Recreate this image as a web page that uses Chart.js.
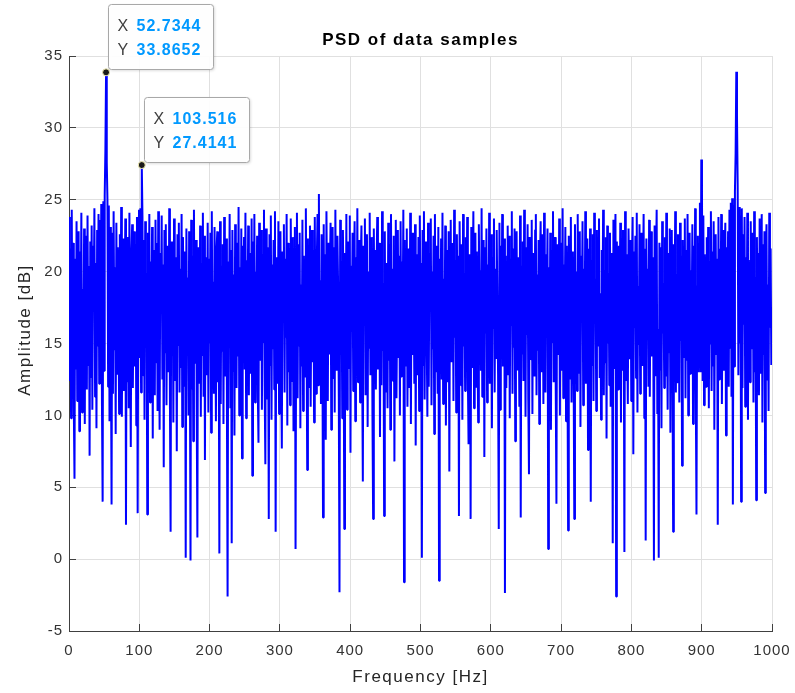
<!DOCTYPE html>
<html>
<head>
<meta charset="utf-8">
<title>PSD of data samples</title>
<script src="https://cdn.jsdelivr.net/npm/chart.js@4.4.1/dist/chart.umd.min.js"></script>
<style>
html, body { margin: 0; padding: 0; background: #fff; }
canvas { display: block; }
</style>
</head>
<body>
<canvas id="psd" width="795" height="693"></canvas>
<script>
// spectrum settings
const sampleRate = 1000;
const nfft = 1024;

// axis ticks
const xTicks = [0, 100, 200, 300, 400, 500, 600, 700, 800, 900, 1000];
const yTicks = [-5, 0, 5, 10, 15, 20, 25, 30, 35];

// bins that get a data tip
const tipBins = [54, 106];

// PSD amplitude per bin, dB (one row = 32 bins)
const amplitudeDb = [
  23.8, 12.4, 21.6, 9.8, 24.3, 14.1, 22.0, 10.6, 5.6, 20.9, 13.2, 23.5, 11.0, 19.7, 22.8, 8.9, 21.4, 15.6, 24.1, 10.2, 18.8, 12.7, 23.0, 9.4, 22.5, 16.3, 11.8, 23.9, 13.5, 20.4, 7.2, 22.1,
  12.6, 23.2, 10.4, 21.8, 17.5, 24.4, 11.3, 20.6, 9.1, 22.9, 14.8, 24.0, 12.2, 23.6, 16.0, 24.7, 10.8, 4.0, 24.9, 13.1, 25.3, 28.4, 33.8652, 27.6, 25.0, 12.0, 24.6, 9.6, 23.1, 15.4, 3.8, 22.7,
  11.5, 24.2, 14.6, 20.3, 8.7, 23.4, 12.9, 21.7, 18.2, 10.1, 22.6, 13.8, 24.5, 9.9, 19.4, 22.3, 11.7, 16.8, 23.7, 2.4, 20.8, 12.3, 22.4, 10.5, 24.1, 15.2, 7.8, 21.2, 23.3, 11.9, 18.6, 22.8,
  13.4, 21.9, 9.3, 23.8, 3.2, 20.1, 24.3, 14.0, 24.4, 11.6, 27.4141, 23.8, 12.8, 22.2, 9.7, 23.5, 16.4, 19.9, 3.1, 22.7, 12.1, 24.0, 10.9, 20.7, 14.3, 23.1, 8.4, 21.5, 18.0, 11.4, 23.6, 13.7,
  22.0, 10.3, 24.2, 15.8, 9.0, 21.3, 17.1, 23.9, 12.5, 20.5, 6.4, 22.9, 14.4, 23.3, 10.7, 19.2, 21.8, 13.0, 24.4, 11.1, 1.9, 22.1, 16.7, 20.0, 9.5, 23.7, 12.4, 21.0, 18.4, 7.5, 22.6, 14.9,
  23.4, 11.6, 20.2, 13.3, 24.0, 9.2, 22.4, 16.1, 12.0, 21.4, 0.1, 23.0, 14.7, 19.6, 10.0, 22.8, 15.5, -0.1, 23.6, 11.8, 21.1, 8.2, 24.3, 13.6, 19.0, 22.2, 10.6, 1.5, 21.7, 17.4, 12.2, 23.2,
  9.9, 20.6, 14.2, 24.1, 11.3, 22.5, 6.9, 21.0, 18.7, 12.8, 23.4, 10.2, 20.9, 15.0, 22.7, 8.8, 24.2, 13.9, 19.3, 11.5, 23.1, 16.6, 9.6, 21.6, 22.8, 12.3, 17.7, 0.4, 23.5, 10.8, 20.4, 14.5,
  21.9, 9.4, 23.8, 12.7, 18.9, 22.3, 11.0, -2.6, 20.7, 15.3, 24.0, 10.5, 21.5, 1.1, 22.9, 13.1, 19.8, 8.6, 23.3, 16.2, 11.9, 22.0, 14.1, 24.5, 10.0, 20.3, 12.6, 23.0, 7.0, 21.8, 17.9, 22.4,
  13.2, 24.1, 9.8, 20.8, 15.7, 23.2, 11.4, 21.3, 18.3, 12.9, 23.7, 5.8, 22.1, 14.0, 24.0, 10.9, 20.0, 16.5, 22.5, 11.7, 8.1, 23.4, 13.8, 19.5, 22.9, 10.4, 21.2, 15.1, 24.3, 12.0, 6.6, 23.0,
  11.1, 21.7, 17.0, 2.8, 22.6, 13.5, 23.9, 9.7, 20.5, 14.6, 22.2, 11.8, 24.2, 1.9, 21.0, 16.3, 12.2, 23.5, 10.1, 19.7, 22.8, 13.9, 7.7, 21.4, 18.1, 23.3, 11.6, 20.9, 15.4, 24.0, 9.3, 22.0,
  13.0, 21.6, 10.7, 23.7, 16.9, 12.4, 22.4, 8.9, 20.2, 23.1, 0.7, 18.5, 24.1, 11.2, 21.9, 14.8, 22.7, 9.1, 19.1, 13.4, 23.6, 10.3, 21.1, 17.6, 12.7, 24.4, 15.9, 6.2, 22.3, 11.9, 20.6, 23.2,
  10.6, 18.2, 22.9, 13.7, 21.5, 9.5, 23.8, 15.2, 11.5, 20.9, 24.0, 12.1, 25.4, 14.4, 19.4, 10.8, 22.6, 16.0, 2.9, 23.3, 12.9, 21.2, 8.3, 24.2, 17.2, 11.0, 22.0, 14.3, 20.1, 23.4, 9.0, 18.8,
  23.1, 12.6, 21.7, 10.2, 24.3, 15.6, 13.1, 22.5, 19.0, 11.3, -2.3, 23.6, 14.9, 20.7, 9.8, 22.9, 16.6, 2.1, 21.3, 12.4, 24.0, 10.4, 18.0, 22.1, 13.3, 23.9, 7.4, 20.4, 15.8, 22.7, 11.7, 19.6,
  23.5, 9.6, 21.0, 14.1, 24.4, 12.3, 17.3, 22.2, 10.9, 20.8, 23.2, 13.6, 5.4, 21.8, 16.4, 23.7, 11.4, 19.8, 22.6, 9.2, 20.0, 14.7, 24.1, 12.8, 18.6, 22.4, 10.1, 2.8, 23.0, 15.5, 21.5, 11.8,
  20.3, 23.8, 13.2, 16.8, 22.0, 8.5, 21.4, 12.1, 24.2, 14.5, 19.2, 3.0, 22.8, 11.6, 20.6, 17.8, 10.5, 23.4, 13.8, 21.9, 9.0, 24.0, 15.3, 20.2, 12.4, 22.5, 6.8, 19.9, 23.6, 11.2, 17.4, 22.9,
  14.0, 21.1, 10.0, 23.5, 12.7, 20.7, 16.2, 24.3, -1.6, 22.2, 13.4, 18.7, 23.0, 10.6, 21.6, 15.0, 11.9, 24.1, 9.4, 20.4, 22.7, 14.2, 19.3, 12.2, 23.3, 7.9, 21.2, 17.0, 12.8, 22.4, 10.3, 23.9,
  16.5, 20.6, 0.1, 22.9, 13.5, 24.2, 11.1, 19.7, 22.1, 15.9, 9.9, 23.4, 12.0, 21.3, 18.1, 23.7, 10.7, 20.0, 14.6, 22.5, 8.7, 24.0, 13.0, 21.8, 17.6, 11.5, 23.1, -1.5, 20.9, 15.1, 22.3, 12.5,
  24.1, 10.8, 19.5, 14.4, 23.2, 9.3, 21.5, 16.7, 12.3, 22.8, 6.1, 20.3, 23.6, 13.7, 18.3, 22.0, 11.0, 24.3, 15.4, 20.8, 10.2, 22.6, 13.9, 21.1, 3.0, 23.5, 17.1, 12.1, 21.9, 9.7, 24.0, 14.8,
  19.9, 11.7, 22.4, 16.0, 23.8, 12.6, 8.0, 21.2, 20.6, 2.8, 23.1, 13.3, 19.0, 24.2, 10.5, 17.9, 22.7, 12.0, 21.4, 14.9, 9.5, 23.3, 16.6, 20.1, 13.1, 24.4, 11.3, 18.6, 22.2, 7.1, 21.7, 15.7,
  23.0, 10.9, 20.5, 13.6, 24.1, 12.2, 19.4, 22.6, 9.1, 21.0, 16.1, 23.7, 11.6, 20.2, 14.0, 22.9, 17.5, 12.9, 2.1, 23.4, 10.4, 21.8, 15.2, 24.0, 13.4, 20.7, 22.3, -2.35, 21.1, 11.9, 18.2, 23.2,
  12.8, 22.5, 9.8, 20.9, 16.3, 24.2, 11.5, 21.6, 14.7, 23.0, 8.2, 19.6, 22.8, 13.2, 21.0, 17.3, 10.6, 23.9, 2.9, 20.4, 14.3, 22.1, 12.4, 24.3, 18.9, 9.9, 21.7, 15.6, 23.3, 11.1, 5.9, 22.4,
  20.0, 13.9, 23.6, 10.1, 21.3, 16.8, 12.7, 22.9, 24.0, 11.4, 19.8, 14.5, 22.2, 9.4, 20.7, 23.5, 13.0, 18.4, 22.6, 10.8, 24.1, 15.8, 11.6, 21.2, 17.7, 23.0, 0.7, 20.3, 13.6, 22.7, 9.0, 21.5,
  15.1, 24.2, 12.3, 19.3, 22.4, 11.8, 3.85, 21.9, 20.8, 14.2, 23.7, 10.0, 18.0, 22.0, 13.1, 24.4, 11.2, 20.5, 16.4, 23.1, 9.6, 21.8, 14.6, 2.0, 22.5, 12.5, 19.7, 23.8, 10.9, 17.2, 21.4, 13.8,
  2.8, 23.3, 15.5, 20.0, 11.7, 24.0, 12.9, 18.7, 22.8, 9.2, 21.1, 16.9, 23.5, 10.7, 20.2, 14.1, 24.2, 12.2, 19.1, 22.3, 7.6, 21.6, 15.9, 23.0, 4.0, 20.8, 13.5, 22.6, 11.0, 24.1, 17.0, 19.5,
  10.3, 22.9, 14.8, 21.0, 23.7, 12.6, 18.5, 9.7, 21.5, 16.2, 24.3, 11.4, 20.1, 13.7, 22.4, 8.4, 23.2, 15.0, 19.9, 12.1, 22.7, 10.6, 21.3, 17.4, 1.1, 23.6, 13.3, 20.6, 24.0, -2.6, 22.1, 14.4,
  11.8, 21.8, 16.7, 23.4, 9.5, 20.4, 13.1, 22.9, 18.2, 0.5, 24.2, 12.4, 21.2, 15.3, 10.8, 23.0, 19.4, 13.9, 22.2, 11.0, 20.7, 23.8, 7.3, 21.4, 16.1, 22.5, 12.6, 24.1, 10.2, 19.0, 14.9, 23.3,
  11.5, 20.9, 22.7, 13.5, 18.8, 24.0, 9.8, 21.6, 1.3, 22.3, 15.4, 20.2, 12.0, 23.6, 11.3, 19.6, 22.8, 14.1, 21.0, 17.8, -0.1, 23.2, 12.8, 20.5, 24.3, 10.1, 16.0, 0.1, 22.0, 13.2, 21.7, 9.1,
  23.5, 15.7, 19.2, 11.9, 22.4, 12.7, 24.1, 17.1, 10.4, 21.3, 14.4, 23.0, 8.8, 20.6, 22.9, 13.6, 1.9, 21.9, 16.5, 24.2, 11.6, 19.8, 12.3, 22.6, 20.3, 10.9, 23.4, 15.2, 21.1, 6.5, 22.2, 14.0,
  19.5, 23.7, 11.2, 21.5, 13.8, 24.0, 10.0, 18.4, 22.7, 12.9, 20.1, 16.4, 23.3, 9.4, 21.8, 14.6, 24.4, 11.5, 3.1, 19.0, 22.5, 13.0, 21.6, 24.8, 13.0, 27.8, 25.6, 12.4, 23.9, 10.7, 21.2, 16.9,
  12.0, 22.4, 17.6, 23.1, 10.5, 20.7, 15.0, 24.2, 11.7, 21.4, 13.4, 23.5, 9.0, 19.3, 22.6, 14.2, 20.9, 2.4, 23.8, 12.5, 21.6, 16.2, 24.0, 10.8, 18.1, 22.9, 13.1, 20.4, 23.4, 8.6, 21.7, 15.6,
  22.8, 12.0, 24.3, 14.7, 24.8, 11.3, 25.1, 3.8, 24.6, 13.4, 25.6, 28.2, 33.9, 30.8, 26.0, 12.8, 24.5, 15.0, 23.9, 4.0, 24.4, 11.9, 22.6, 16.3, 23.8, 10.6, 21.0, 13.9, 24.1, 9.7, 20.8, 17.5,
  12.3, 23.5, 14.6, 20.3, 22.7, 10.9, 24.2, 13.0, 19.6, 4.1, 22.4, 15.8, 21.3, 11.4, 23.7, 12.9, 18.0, 24.0, 9.5, 21.9, 14.2, 22.8, 4.6, 20.5, 23.3, 12.5, 19.1, 10.3, 24.1, 16.1, 21.6, 13.5
];

const binHz = sampleRate / nfft;
const points = amplitudeDb.map((v, i) => ({ x: i * binHz, y: v }));

const FONT = "'Liberation Sans', Arial, Helvetica, sans-serif";
const AXIS_COLOR = '#404040';
const TICK_COLOR = '#333333';

// same rounding chart.js uses for 1px lines
function crisp(p) {
  return Math.round(p - 0.5) + 0.5;
}

function roundRect(ctx, x, y, w, h, r) {
  ctx.beginPath();
  ctx.moveTo(x + r, y);
  ctx.lineTo(x + w - r, y);
  ctx.arcTo(x + w, y, x + w, y + r, r);
  ctx.lineTo(x + w, y + h - r);
  ctx.arcTo(x + w, y + h, x + w - r, y + h, r);
  ctx.lineTo(x + r, y + h);
  ctx.arcTo(x, y + h, x, y + h - r, r);
  ctx.lineTo(x, y + r);
  ctx.arcTo(x, y, x + r, y, r);
  ctx.closePath();
}

const decor = {
  id: 'decor',
  beforeDraw(chart) {
    const ctx = chart.ctx;
    ctx.save();
    ctx.fillStyle = '#fff';
    ctx.fillRect(0, 0, chart.width, chart.height);
    ctx.restore();
    ctx.letterSpacing = '1px';
  },
  beforeDatasetsDraw(chart) {
    // inward tick marks on left and bottom axes
    const { ctx, chartArea: a, scales: { x, y } } = chart;
    ctx.save();
    ctx.strokeStyle = AXIS_COLOR;
    ctx.lineWidth = 1;
    ctx.beginPath();
    yTicks.forEach(v => {
      const py = crisp(y.getPixelForValue(v));
      ctx.moveTo(a.left, py);
      ctx.lineTo(a.left + 7, py);
    });
    xTicks.forEach(v => {
      const px = crisp(x.getPixelForValue(v));
      ctx.moveTo(px, a.bottom);
      ctx.lineTo(px, a.bottom - 7);
    });
    ctx.stroke();
    ctx.restore();
  },
  afterDraw(chart) {
    const { ctx, chartArea: a, scales: { x, y } } = chart;
    const cx = (a.left + a.right) / 2;

    ctx.save();
    ctx.textAlign = 'center';
    ctx.textBaseline = 'middle';

    // title
    ctx.letterSpacing = '1.5px';
    ctx.fillStyle = '#000';
    ctx.font = `bold 17px ${FONT}`;
    ctx.fillText('PSD of data samples', cx, 40);

    // axis labels
    ctx.fillStyle = '#262626';
    ctx.font = `17px ${FONT}`;
    ctx.fillText('Frequency [Hz]', cx, 677);
    ctx.save();
    ctx.translate(25, 330);
    ctx.rotate(-Math.PI / 2);
    ctx.fillText('Amplitude [dB]', 0, 0);
    ctx.restore();
    ctx.restore();

    // data tips
    tipBins.forEach(bin => {
      const fx = bin * binHz;
      const fy = amplitudeDb[bin];
      const px = x.getPixelForValue(fx);
      const py = y.getPixelForValue(fy);
      const w = 105, h = 65;
      const bx = Math.round(px) + 2.5;
      const by = Math.round(py) - 2.5 - h;

      ctx.save();
      ctx.shadowColor = 'rgba(0,0,0,0.18)';
      ctx.shadowBlur = 3;
      ctx.shadowOffsetX = 1;
      ctx.shadowOffsetY = 1;
      ctx.fillStyle = 'rgba(255,255,255,0.96)';
      roundRect(ctx, bx, by, w, h, 3);
      ctx.fill();
      ctx.restore();

      ctx.save();
      ctx.strokeStyle = '#a8a8a8';
      ctx.lineWidth = 1;
      roundRect(ctx, bx, by, w, h, 3);
      ctx.stroke();

      ctx.textAlign = 'left';
      ctx.textBaseline = 'middle';
      ctx.letterSpacing = '1px';
      ctx.font = `16px ${FONT}`;
      ctx.fillStyle = '#404040';
      ctx.fillText('X', bx + 9, by + 22);
      ctx.fillText('Y', bx + 9, by + 46);
      ctx.font = `bold 16px ${FONT}`;
      ctx.fillStyle = '#0099ff';
      ctx.fillText(fx.toPrecision(6), bx + 28, by + 22);
      ctx.fillText(fy.toPrecision(6), bx + 28, by + 46);

      // marker
      ctx.beginPath();
      ctx.arc(px, py, 3.5, 0, Math.PI * 2);
      ctx.fillStyle = '#1a1a1a';
      ctx.fill();
      ctx.strokeStyle = '#f2eeb4';
      ctx.lineWidth = 1;
      ctx.stroke();
      ctx.restore();
    });
  }
};

new Chart(document.getElementById('psd'), {
  type: 'line',
  data: {
    datasets: [{
      data: points,
      borderColor: '#0000ff',
      borderWidth: 2,
      borderJoinStyle: 'bevel',
      pointRadius: 0,
      pointHoverRadius: 0,
      fill: false,
      tension: 0
    }]
  },
  options: {
    responsive: false,
    animation: false,
    devicePixelRatio: 1,
    parsing: false,
    normalized: true,
    events: [],
    layout: { padding: { top: 56, right: 23, bottom: 0, left: 0 } },
    plugins: {
      legend: { display: false },
      tooltip: { enabled: false },
      title: { display: false }
    },
    scales: {
      x: {
        type: 'linear',
        min: 0,
        max: 1000,
        // fixed axis band; tick labels may overhang into the page margin
        afterFit(s) { s.height = 62; s.paddingLeft = 0; s.paddingRight = 0; },
        afterBuildTicks(s) { s.ticks = xTicks.map(v => ({ value: v })); },
        ticks: {
          color: TICK_COLOR,
          font: { family: FONT, size: 15 },
          padding: 11,
          maxRotation: 0,
          autoSkip: false,
          callback: v => String(v)
        },
        grid: { color: '#e0e0e0', lineWidth: 1, drawTicks: false },
        border: { display: true, color: AXIS_COLOR, width: 1 }
      },
      y: {
        type: 'linear',
        min: -5,
        max: 35,
        afterFit(s) { s.width = 69; s.paddingTop = 0; s.paddingBottom = 0; },
        afterBuildTicks(s) { s.ticks = yTicks.map(v => ({ value: v })); },
        ticks: {
          color: TICK_COLOR,
          font: { family: FONT, size: 15 },
          padding: 6,
          autoSkip: false,
          callback: v => String(v)
        },
        grid: { color: '#e0e0e0', lineWidth: 1, drawTicks: false },
        border: { display: true, color: AXIS_COLOR, width: 1 }
      }
    }
  },
  plugins: [decor]
});
</script>
</body>
</html>
